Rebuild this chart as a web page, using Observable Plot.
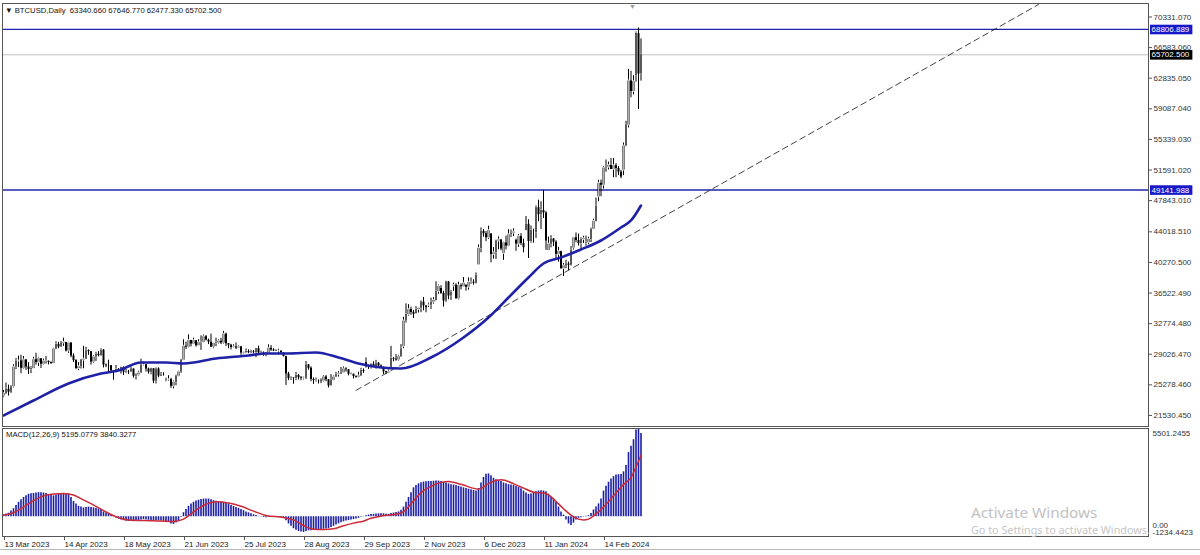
<!DOCTYPE html>
<html><head><meta charset="utf-8">
<script src="https://cdn.jsdelivr.net/npm/d3@7"></script>
<script src="https://cdn.jsdelivr.net/npm/@observablehq/plot@0.6"></script>
<style>
html,body{margin:0;padding:0;background:#fff;}
#wrap{position:relative;width:1200px;height:555px;overflow:hidden;font-family:"Liberation Sans",Arial,sans-serif;background:#fff;}
#wrap svg{display:block;}
.ov{position:absolute;white-space:pre;line-height:1;}
</style></head>
<body><div id="wrap"></div>
<script>
// ---------------- DATA ----------------
const symbolTitle = "BTCUSD,Daily";
const lastOHLC = ["63340.660", "67646.770", "62477.330", "65702.500"];
const macdTitle = "MACD(12,26,9) 5195.0779 3840.3277";

// date axis (bar index of each label)
const dateTickBars = [0, 24, 48, 72, 96, 120, 144, 168, 192, 216, 240];
const dateTickLabels = ["13 Mar 2023", "14 Apr 2023", "18 May 2023", "21 Jun 2023", "25 Jul 2023", "28 Aug 2023", "29 Sep 2023", "2 Nov 2023", "6 Dec 2023", "11 Jan 2024", "14 Feb 2024"];

// price axis
const priceTicks = [70331.07, 66583.06, 62835.05, 59087.04, 55339.03, 51591.02, 47843.01, 44018.51, 40270.5, 36522.49, 32774.48, 29026.47, 25278.46, 21530.45];
const priceTickLabels = ["70331.070", "66583.060", "62835.050", "59087.040", "55339.030", "51591.020", "47843.010", "44018.510", "40270.500", "36522.490", "32774.480", "29026.470", "25278.460", "21530.450"];

// daily bars (weekdays), index 0 = 13 Mar 2023
const opens = [
23900,24200,24750,24380,25050,27450,28180,28200,27300,28330,
27480,27150,27270,28350,28030,28480,27800,28170,28170,28030,
27900,29650,30230,29900,30400,30480,29430,30390,28820,28250,
27270,27510,28310,28420,29470,29340,28070,28680,29030,28840,
29530,27700,27630,27620,26990,26800,27170,27030,27400,26830,
26890,26850,27220,26330,26480,26720,27700,27700,27220,26820,
27250,25730,27230,26340,26500,25840,25900,25920,25120,25580,
26330,26850,28300,30000,29900,30700,30270,30690,30080,30450,
30480,31160,30770,30510,29900,30350,30410,30620,30390,31480,
30320,30140,29860,29910,29800,29910,29180,29230,29350,29210,
29310,29230,29700,29180,29180,29080,29180,29770,29560,29430,
29400,29400,29170,28730,26620,26050,26120,26050,26430,26160,
26060,26100,27730,27300,25930,25800,25820,25780,25750,26240,
25900,25160,25830,26230,26530,26610,26760,27210,27130,26570,
26580,26300,26220,26370,27030,27990,27500,27430,27790,27410,
27930,27600,27390,26870,26760,27160,28520,28420,28330,28720,
29990,33090,33900,34500,34150,34000,34500,34650,35420,34940,
35010,35040,35400,35620,36700,37080,36480,35550,37880,36160,
37380,37480,35810,37430,37290,37450,37240,37830,37850,37720,
39970,41990,44080,43770,43290,43760,41240,41450,42890,43020,
41370,42660,42270,43660,43860,43000,42520,43440,42580,44170,
44940,42840,44180,43950,46970,46110,46630,46340,41730,42510,
43140,42740,41260,41580,39510,39850,40080,39930,42030,43290,
42950,42580,43080,42580,42690,43090,44340,45300,48300,49960,
49730,51830,51930,52130,51660,52120,51780,51320,51570,54520,
57090,62500,61200,63150,68300,63340.66];
const highs = [
24600,25500,25250,25200,27750,28500,28800,28900,28750,28400,
28000,27500,28650,29150,28650,28480,28440,28750,28190,28100,
29770,30550,30480,30600,31000,30500,30470,30410,29080,28370,
28000,28390,30000,29880,29570,29340,28870,29260,29350,29700,
29600,27830,28300,27650,27000,27650,27270,27450,27480,27160,
27050,27480,27220,26630,26940,28420,28050,27830,27330,27300,
27250,27350,27360,26790,26770,26100,26400,26080,25750,26470,
26950,28400,30800,30500,31400,30720,31000,30700,30800,31280,
31380,31330,30880,31500,30440,31000,30800,30980,31820,31630,
30340,30240,30180,30410,30050,30000,29310,29680,29570,29520,
29480,29730,30030,29400,29310,29250,30180,30100,29700,29550,
29640,29460,29220,28780,26820,26250,26140,26800,26560,26300,
26220,28140,27760,27490,26130,26100,25860,26010,26420,26420,
25920,26530,26380,26790,26890,27420,27470,27380,27150,26720,
26600,26390,26830,27300,27230,28580,27670,27830,28110,28280,
28000,27740,27480,26940,27100,30000,28610,28980,28900,30200,
33550,35200,35100,34800,34400,34850,34720,35560,35980,34950,
35280,35890,35960,37900,37500,37420,36750,37970,37940,36840,
37740,37650,37850,37650,38420,37560,38380,38370,38150,38980,
42420,44490,44300,44060,44700,43790,42100,43000,43400,43090,
42750,43490,44280,44240,44400,43120,43680,43800,43120,45900,
45500,44730,44350,47200,47900,47700,49100,46500,43380,43550,
43190,42920,42130,41650,40130,40530,40300,42210,43310,43880,
43740,43290,43480,43500,43350,44470,45570,48150,50330,50360,
52020,52820,52560,52980,52990,52370,52000,51550,54900,57550,
63900,63680,63150,68500,69000,67646.77];
const lows = [
23700,24100,23900,24200,24900,27150,27400,26650,27150,27050,
26550,26650,27250,27700,27530,27280,27680,27830,27720,27780,
27900,29600,29700,29900,30000,29300,29140,28600,28020,27140,
27020,27220,27250,28400,28900,27700,27900,28150,28700,28800,
27350,27380,26800,26750,25850,26750,26900,26600,26420,26680,
26550,26820,26100,25880,26350,26720,27600,26850,26600,26520,
25430,25390,26150,26330,26350,25650,25740,24850,24790,25180,
26250,26670,28280,29600,29810,29920,30230,29900,30060,29500,
30400,30650,30210,29850,29710,29960,30270,30210,30250,29960,
29700,29550,29770,29600,29730,28900,29060,29110,29100,29120,
29100,28600,29050,29100,28780,28720,29130,29380,29350,29360,
29090,29070,28700,25200,25800,25820,25350,25800,25870,25780,
25880,25920,27070,25660,25340,25620,25380,25430,25630,25660,
24900,25140,25770,26210,26230,26550,26720,26850,26380,26500,
26000,26090,26120,26340,26680,27330,27170,27220,27370,27200,
27300,27300,26560,26560,26690,27120,28100,28170,28180,28650,
29700,32850,33700,33800,33400,34000,34080,34120,34350,34100,
34750,34520,35160,35560,36370,36360,34800,35370,35700,35620,
36740,35770,35680,36900,37260,36750,36880,37600,37500,37630,
39970,41450,43360,42820,43090,40230,40680,40640,41810,41700,
40530,41800,42200,43330,43440,41630,42110,42330,41450,44150,
40750,42630,42630,43200,45250,44300,45650,41750,41720,42060,
42200,40680,40300,39450,38550,39500,39280,39820,41800,42680,
42290,41880,42600,42260,42440,42700,44330,45250,47700,48320,
49250,51320,51600,51700,50650,50650,50900,50530,50900,54450,
56750,60430,60800,62350,59000,62477.33];
const closes = [
24200,24750,24380,25050,27450,28180,28200,27300,28330,27480,
27150,27270,28350,28030,28480,27800,28170,28170,28030,27900,
29650,30230,29900,30400,30480,29430,30390,28820,28250,27270,
27510,28310,28420,29470,29340,28070,28680,29030,28840,29530,
27700,27630,27620,26990,26800,27170,27030,27400,26830,26890,
26850,27220,26330,26480,26720,27700,27700,27220,26820,27250,
25730,27230,26340,26500,26480,25900,25920,25120,25580,26330,
26850,28300,30000,29900,30700,30270,30690,30080,30450,30480,
31160,30770,30510,29900,30350,30410,30620,30390,31480,30320,
30140,29860,29910,29800,29910,29180,29230,29350,29210,29310,
29230,29700,29180,29180,29080,29180,29770,29560,29430,29400,
29400,29170,28730,26620,26050,26120,26050,26430,26160,26060,
26100,27730,27300,25930,25800,25820,25780,25750,26240,25900,
25160,25830,26230,26530,26610,26760,27210,27130,26570,26580,
26300,26220,26370,27030,26910,27500,27430,27790,27410,27930,
27600,27390,26870,26760,26860,28520,28420,28330,28720,29680,
33090,33900,34500,34150,33900,34500,34650,35420,34940,34730,
35040,35400,35620,36700,37320,36480,35550,37880,36160,36590,
37480,35810,37430,37290,37720,37240,37830,37850,37720,38690,
41990,44080,43770,43290,44170,41240,41450,42890,43020,41930,
42660,42270,43660,43860,43990,42520,43440,42580,42070,44940,
42840,44180,44160,46970,46110,46630,46340,42890,42510,43140,
42740,41260,41620,39510,39850,40080,39930,41800,43290,42950,
42580,43080,43180,42690,43090,44340,45300,47150,49960,49730,
51830,51930,52160,51660,52120,51780,51320,50730,54520,57090,
62500,61200,62400,68300,63340.66,65702.5];

// moving average (read at sample bars)
const maIdx = [0,12,26,39,46,55,65,72,85,98,105,113,125,134,142,151,159,171,184,194,202,210,216,223,231,239,247,251,255];
const maVal = [21526,23363,25445,26670,27037,28017,28017,27894,28507,28874,29119,29119,29241,28629,27894,27404,27282,28629,31078,33528,35977,38427,40141,40876,41856,42958,44550,45408,47245];

// horizontal levels and current price
const levelValues = [68806.889, 49141.988];
const levelLabels = ["68806.889", "49141.988"];
const currentPrice = 65702.5;
const currentPriceLabel = "65702.500";

// trend line anchor points (bar index, price)
const trendIdx = [141, 414];
const trendVal = [24600, 71860];

// MACD main (histogram), one per bar
const macdMain = [
100,150,220,350,500,700,900,1050,1200,1300,
1400,1430,1450,1480,1500,1500,1480,1450,1380,1330,
1300,1350,1400,1430,1450,1420,1400,1200,950,800,
650,600,550,580,600,570,550,520,480,450,
300,230,150,80,0,-80,-150,-200,-250,-280,
-300,-300,-310,-300,-250,-200,-180,-200,-220,-240,
-280,-250,-250,-260,-280,-320,-360,-450,-480,-400,
-280,-50,250,450,650,800,900,980,1030,1080,
1100,1110,1100,1050,1000,960,940,920,900,850,
780,700,640,580,520,450,380,300,240,180,
120,80,20,-20,-50,-60,-40,-30,-30,-40,
-50,-60,-80,-250,-450,-600,-750,-850,-920,-960,
-980,-930,-880,-880,-860,-840,-820,-800,-780,-760,
-740,-680,-600,-520,-450,-380,-320,-270,-240,-210,
-180,-150,-100,-40,20,60,100,130,150,170,
180,190,180,160,150,200,230,260,300,400,
600,900,1200,1500,1800,1950,2050,2120,2160,2180,
2200,2200,2210,2220,2220,2200,2150,2100,2050,2000,
1980,1950,1900,1850,1800,1760,1720,1680,1640,1600,
1750,2100,2450,2650,2670,2550,2400,2300,2250,2200,
2100,2050,2000,1980,1950,1880,1820,1750,1600,1480,
1400,1420,1450,1550,1600,1620,1600,1550,1400,1200,
1100,900,600,300,100,-200,-450,-550,-400,-200,
-100,-60,-20,30,60,200,420,600,800,1100,
1600,1900,2150,2350,2500,2600,2620,2640,2800,3200,
4000,4400,4800,5400,5501.2455,5195.0779];
// MACD signal (read at sample bars)
const sigIdx = [0,4,8,12,16,20,24,28,32,37,41,45,50,60,68,72,76,80,85,90,95,100,105,112,116,120,124,128,132,136,140,143,147,151,158,160,164,167,171,175,178,183,190,195,199,207,213,216,219,221,224,227,230,232,234,236,238,240,244,248,251,253,255];
const sigVal = [100,250,600,1000,1300,1420,1450,1350,1050,650,300,0,-200,-250,-300,-150,300,700,930,850,650,350,80,-50,-200,-550,-780,-800,-750,-560,-400,-320,-100,50,180,320,980,1500,1900,2140,2200,2020,1720,2150,2300,1850,1500,1480,1250,950,500,100,-150,-200,-150,50,300,600,1300,2000,2450,3100,3840.3277];
const macdMax = 5501.2455, macdMin = -1234.4423;
const macdScaleLabels = ["5501.2455", "0.00", "-1234.4423"];

// ---------------- BUILD ----------------
const FONT = "'Liberation Sans', Arial, sans-serif";
const bars = closes.map((c, i) => ({i, o: opens[i], h: highs[i], l: lows[i], c, up: c >= opens[i]}));
const ma = maIdx.map((i, k) => ({i, v: maVal[k]}));
const trend = trendIdx.map((i, k) => ({i, v: trendVal[k]}));
const hist = macdMain.map((v, i) => ({i, v}));
const sig = sigIdx.map((i, k) => ({i, v: sigVal[k]}));
const priceLabelMap = new Map(priceTicks.map((v, k) => [v, priceTickLabels[k]]));
const dateLabelMap = new Map(dateTickBars.map((v, k) => [v, dateTickLabels[k]]));
const tags = [
  {v: levelValues[0], t: levelLabels[0], kind: "level"},
  {v: currentPrice, t: currentPriceLabel, kind: "price"},
  {v: levelValues[1], t: levelLabels[1], kind: "level"}
];
const tagKind = new Map(tags.map(d => [d.t, d.kind]));
const TAG_BG = {level: "#1818c8", price: "#000000"};
const xDomain = [-0.4, 458];

const main = Plot.plot({
  width: 1200, height: 427,
  marginTop: 3, marginBottom: 1, marginLeft: 2, marginRight: 52,
  x: {domain: xDomain, axis: null},
  y: {domain: [20178, 71984], axis: null},
  style: {fontFamily: FONT, fontSize: "8px", background: "#fff", color: "#222"},
  marks: [
    Plot.ruleY([currentPrice], {stroke: "#c4c4c4", strokeWidth: 1}),
    Plot.ruleY(levelValues, {stroke: "#2222ae", strokeWidth: 1.3}),
    Plot.line(trend, {x: "i", y: "v", stroke: "#111", strokeWidth: 0.8, strokeDasharray: "6,4", clip: true}),
    Plot.ruleX(bars, {x: "i", y1: "l", y2: "h", stroke: "#000", strokeWidth: 1}),
    Plot.ruleX(bars, {x: "i", y1: "o", y2: "c", stroke: "#000", strokeWidth: 2}),
    Plot.ruleX(bars.filter(d => d.up), {x: "i", y1: d => Math.min(d.o, d.c), y2: d => Math.max(d.o, d.c), stroke: "#e0e0e0", strokeWidth: 0.8, insetTop: 1, insetBottom: 1}),
    Plot.line(ma, {x: "i", y: "v", stroke: "#1f22a6", strokeWidth: 2.6, curve: "monotone-x"}),
    Plot.axisY({anchor: "right", ticks: priceTicks, tickFormat: d => priceLabelMap.get(d), tickSize: 3, tickPadding: 2, label: null, fontSize: 8, fill: "#333", stroke: "#555"}),
    Plot.text(tags, {y: "v", text: "t", frameAnchor: "right", textAnchor: "start", dx: 3, fill: "#fff", fontSize: 8}),
    Plot.frame({stroke: "#555"})
  ]
});

const macd = Plot.plot({
  width: 1200, height: 128,
  marginTop: 1, marginBottom: 19, marginLeft: 2, marginRight: 52,
  x: {domain: xDomain},
  y: {domain: [macdMin, macdMax], axis: null},
  style: {fontFamily: FONT, fontSize: "8px", background: "#fff", color: "#222"},
  marks: [
    Plot.ruleX(hist, {x: "i", y1: 0, y2: "v", stroke: "#1b1ea4", strokeWidth: 1.6}),
    Plot.line(sig, {x: "i", y: "v", stroke: "#cc2a36", strokeWidth: 1.5, curve: "monotone-x"}),
    Plot.axisX({ticks: dateTickBars, tickFormat: d => dateLabelMap.get(d), tickSize: 4, tickPadding: 1, textAnchor: "start", dx: 1, label: null, fontSize: 8, fill: "#222", stroke: "#555"}),
    Plot.text([macdMax], {y: d => d, text: () => macdScaleLabels[0], frameAnchor: "right", textAnchor: "start", dx: 4, dy: 5, fill: "#333", fontSize: 8}),
    Plot.text([0], {y: d => d, text: () => macdScaleLabels[1], frameAnchor: "right", textAnchor: "start", dx: 4, dy: 9, fill: "#333", fontSize: 8}),
    Plot.text([macdMin], {y: d => d, text: () => macdScaleLabels[2], frameAnchor: "right", textAnchor: "start", dx: 4, dy: -4, fill: "#333", fontSize: 8}),
    Plot.frame({stroke: "#555"})
  ]
});

const wrap = document.getElementById("wrap");
wrap.appendChild(main);
wrap.appendChild(macd);

// boxes behind the price tags (found by their text)
const tagNodes = [];
main.querySelectorAll("text").forEach(node => {
  if (tagKind.has(node.textContent) && node.childElementCount === 0) tagNodes.push(node);
});
tagNodes.forEach(node => {
  const b = node.getBBox();
  const rect = document.createElementNS("http://www.w3.org/2000/svg", "rect");
  rect.setAttribute("x", b.x - 1.5);
  rect.setAttribute("y", b.y - 0.3);
  rect.setAttribute("width", b.width + 4);
  rect.setAttribute("height", b.height + 0.6);
  rect.setAttribute("fill", TAG_BG[tagKind.get(node.textContent)]);
  const tr = node.getAttribute("transform");
  if (tr) rect.setAttribute("transform", tr);
  node.parentNode.insertBefore(rect, node);
});

function overlay(text, css) {
  const d = document.createElement("div");
  d.className = "ov";
  d.textContent = text;
  Object.assign(d.style, css);
  wrap.appendChild(d);
  return d;
}
overlay("\u25BC " + symbolTitle + "  " + lastOHLC.join(" "), {left: "5px", top: "7px", fontSize: "7.7px", color: "#111"});
overlay(macdTitle, {left: "6px", top: "431px", fontSize: "7.7px", color: "#111"});
overlay("\u25BC", {left: "629px", top: "3px", fontSize: "7px", color: "#9a9a9a"});
overlay("Activate Windows", {left: "971px", top: "505px", fontSize: "15.3px", color: "#c2c2c2", fontFamily: "'Noto Sans', sans-serif"});
overlay("Go to Settings to activate Windows.", {left: "971px", top: "525px", fontSize: "10.8px", color: "#c6c6c6", fontFamily: "'Noto Sans', sans-serif"});
const bl = document.createElement("div");
Object.assign(bl.style, {position: "absolute", left: "0px", top: "549px", width: "1200px", height: "1px", background: "#b8b8b8"});
wrap.appendChild(bl);
</script>
</body></html>
